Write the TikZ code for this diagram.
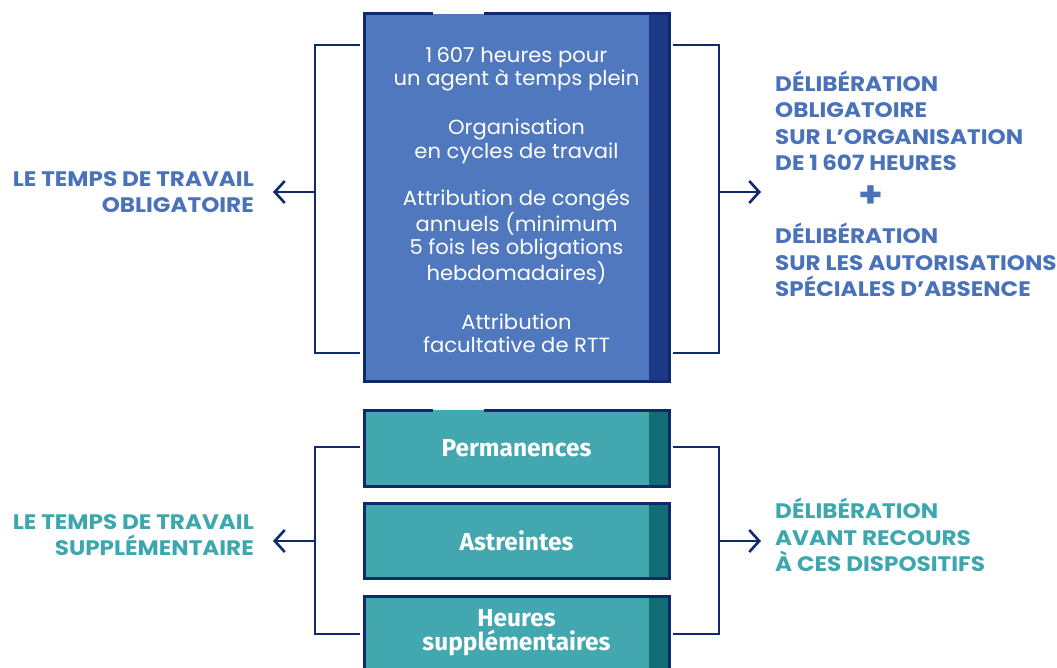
\documentclass[tikz,border=0pt]{standalone}
\usepackage{fontspec}
\setmainfont{Poppins}[FakeStretch=1.03]
\newfontfamily\labfont{Poppins}[FakeStretch=1.10]
\newfontfamily\tealfont{Fira Sans}
\usetikzlibrary{arrows.meta,calc}
\definecolor{blueFill}{RGB}{80,120,190}
\definecolor{blueDark}{RGB}{30,56,136}
\definecolor{navy}{RGB}{14,42,108}
\definecolor{tealFill}{RGB}{66,167,174}
\definecolor{tealDark}{RGB}{19,110,115}
\definecolor{blueText}{RGB}{74,114,186}
\definecolor{tealText}{RGB}{60,168,174}
\begin{document}
\begin{tikzpicture}[x=1pt,y=-1pt,
  box/.style={minimum width=305pt, inner sep=0pt, outer sep=0pt, text=white, align=center},
  boxtxt/.style={font=\fontsize{20.5}{23.4}\selectfont, text=white, align=center, inner sep=0pt},
  tealtxt/.style={font=\fontsize{24.5}{24}\selectfont\tealfont\bfseries},
  boxborder/.style={draw=navy, line width=3pt},
  brk/.style={draw=navy, line width=2.6pt},
  arr/.style={brk, -{Straight Barb[length=10pt,width=22pt]}},
  lab/.style={font=\fontsize{21}{26.5}\selectfont\labfont\bfseries, inner sep=0pt}
]
\clip (0,0) rectangle (1057,668);
\useasboundingbox (0,0) rectangle (1057,668);

% ---------- blue box ----------
\node[box, fill=blueFill, minimum height=367pt] (ob) at (516.5,197.5) {};
\fill[blueDark] ($(ob.north east)+(-20,0)$) rectangle (ob.south east);
\draw[boxborder] ($(ob.north west)+(69,0)$) -- (ob.north west) -- (ob.south west)
  -- (ob.south east) -- (ob.north east) -- ($(ob.north west)+(120,0)$);
\node[boxtxt] (obt) at ($(ob.center)+(0,2.5)$)
 {1\hspace{0.2em}607 heures pour\\un agent à temps plein\\[25.5pt]
  Organisation\\en cycles de travail\\[24pt]
  Attribution de congés\\annuels (minimum\\5 fois les obligations\\hebdomadaires)\\[25.5pt]
  Attribution\\facultative de RTT};

% ---------- teal boxes ----------
\node[box, tealtxt, fill=tealFill, minimum height=76pt] (pe) at (516.5,448) {Permanences};
\fill[tealDark] ($(pe.north east)+(-20,0)$) rectangle (pe.south east);
\draw[boxborder] ($(pe.north west)+(69,0)$) -- (pe.north west) -- (pe.south west)
  -- (pe.south east) -- (pe.north east) -- ($(pe.north west)+(120,0)$);

\node[box, tealtxt, fill=tealFill, minimum height=75pt] (as) at (516.5,540.5) {Astreintes};
\fill[tealDark] ($(as.north east)+(-20,0)$) rectangle (as.south east);
\draw[boxborder] (as.north west) rectangle (as.south east);

\node[box, tealtxt, fill=tealFill, minimum height=74pt] (hs) at (516.5,633) {Heures\\supplémentaires};
\fill[tealDark] ($(hs.north east)+(-20,0)$) rectangle (hs.south east);
\draw[boxborder] (hs.north west) rectangle (hs.south east);

% ---------- labels ----------
\node[lab, text=blueText, align=right, anchor=east] (l1) at (254,192)
 {LE TEMPS DE TRAVAIL\\OBLIGATOIRE};
\node[lab, text=tealText, align=right, anchor=east] (l2) at (254,535)
 {LE TEMPS DE TRAVAIL\\SUPPLÉMENTAIRE};
\node[lab, text=blueText, align=left, anchor=west] (r1) at (775,121)
 {DÉLIBÉRATION\\OBLIGATOIRE\\SUR L’ORGANISATION\\DE 1\hspace{0.2em}607 HEURES};
\node[lab, text=blueText, font=\fontsize{36}{36}\selectfont\labfont\bfseries] (plus) at (871,197) {+};
\node[lab, text=blueText, align=left, anchor=west] (r2) at (775,260)
 {DÉLIBÉRATION\\SUR LES AUTORISATIONS\\SPÉCIALES D’ABSENCE};
\node[lab, text=tealText, align=left, anchor=west] (r3) at (775,535)
 {DÉLIBÉRATION\\AVANT RECOURS\\À CES DISPOSITIFS};

% ---------- brackets ----------
\coordinate (lt1) at ($(ob.west)+(-4,-152.5)$);
\coordinate (lb1) at ($(ob.west)+(-4,155.5)$);
\coordinate (lm1) at (315,192);
\draw[brk] (lt1) -- (lt1 -| lm1) -- (lb1 -| lm1) -- (lb1);
\draw[arr, shorten >=19pt] (lm1) -- (lm1 -| l1.east);

\coordinate (rt1) at ($(ob.east)+(4,-152.5)$);
\coordinate (rb1) at ($(ob.east)+(4,155.5)$);
\coordinate (rm1) at (719,192);
\draw[brk] (rt1) -- (rt1 -| rm1) -- (rb1 -| rm1) -- (rb1);
\draw[arr, shorten >=14pt] (rm1) -- (rm1 -| r1.west);

\coordinate (lt2) at ($(pe.west)+(-4,-1)$);
\coordinate (lb2) at ($(hs.west)+(-4,1)$);
\coordinate (lm2) at (315,541);
\draw[brk] (lt2) -- (lt2 -| lm2) -- (lb2 -| lm2) -- (lb2);
\draw[arr, shorten >=19pt] (lm2) -- (lm2 -| l2.east);

\coordinate (rt2) at ($(pe.east)+(4,-1)$);
\coordinate (rb2) at ($(hs.east)+(4,1)$);
\coordinate (rm2) at (719,541);
\draw[brk] (rt2) -- (rt2 -| rm2) -- (rb2 -| rm2) -- (rb2);
\draw[arr, shorten >=14pt] (rm2) -- (rm2 -| r3.west);
\end{tikzpicture}
\end{document}
